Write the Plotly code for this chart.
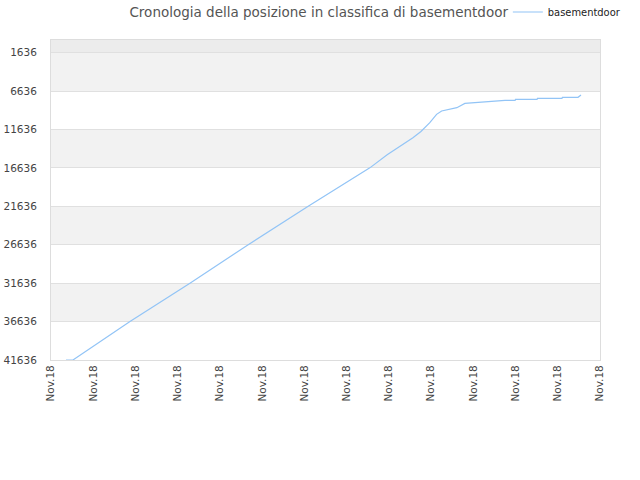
import plotly.graph_objects as go

# x positions in tick units (each tick labelled "Nov.18")
x_pos = [0.355, 0.52, 1.87, 2.58, 3.29, 4.67, 6.09, 7.55, 7.96, 8.57, 8.76,
         8.97, 9.13, 9.25, 9.45, 9.61, 9.80, 9.99, 10.32, 10.63, 10.75, 10.99,
         11.0, 11.51, 11.52, 12.10, 12.11, 12.48, 12.50, 12.55]
ranks = [41636, 41636, 36636, 34170, 31636, 26636, 21636, 16636, 14926, 12711, 11900,
         10757, 9676, 9233, 9024, 8803, 8242, 8151, 8060, 7930, 7851, 7851,
         7721, 7721, 7591, 7591, 7461, 7461, 7330, 7148]

tick_vals_x = list(range(14))
tick_text_x = ["Nov.18"] * 14
tick_vals_y = [1636, 6636, 11636, 16636, 21636, 26636, 31636, 36636, 41636]
tick_text_y = [str(v) for v in tick_vals_y]

fig = go.Figure()
fig.add_trace(go.Scatter(x=x_pos, y=ranks, mode="lines", name="basementdoor",
                         line=dict(color="#92c4f6", width=1.2)))

shapes = []
shapes.append(dict(type="rect", xref="paper", yref="y", x0=0, x1=1, y0=0, y1=tick_vals_y[0],
                   fillcolor="#ececec", line_width=0, layer="below"))
for i in range(0, len(tick_vals_y) - 1, 2):
    shapes.append(dict(type="rect", xref="paper", yref="y", x0=0, x1=1,
                       y0=tick_vals_y[i], y1=tick_vals_y[i + 1],
                       fillcolor="#f2f2f2", line_width=0, layer="below"))

tickfont = dict(family="DejaVu Sans", size=10.5, color="#444")

fig.update_layout(
    width=640, height=480,
    margin=dict(l=51, r=40, t=40, b=120, autoexpand=False),
    paper_bgcolor="white", plot_bgcolor="white",
    font=dict(family="DejaVu Sans", size=11, color="#444"),
    title=dict(text="Cronologia della posizione in classifica di basementdoor",
               x=0.498, xref="container", xanchor="center",
               y=0.975, yref="container", yanchor="middle",
               font=dict(size=13.5, color="#555")),
    showlegend=True,
    legend=dict(x=0.7935, xref="container", y=0.975, yref="container",
                xanchor="left", yanchor="middle",
                orientation="h",
                font=dict(family="DejaVu Sans Condensed, DejaVu Sans", size=11, color="#222"),
                bgcolor="rgba(0,0,0,0)", itemwidth=30),
    shapes=shapes,
)
fig.update_xaxes(range=[0, 13], tickvals=tick_vals_x, ticktext=tick_text_x,
                 tickangle=-90, showgrid=False, zeroline=False, automargin=False,
                 showline=True, linecolor="#dddddd", linewidth=1, mirror=True,
                 ticks="", tickfont=tickfont)
fig.update_yaxes(range=[41636, 0], tickvals=tick_vals_y, ticktext=tick_text_y,
                 showgrid=True, gridcolor="#e0e0e0", gridwidth=1, zeroline=False,
                 automargin=False,
                 showline=True, linecolor="#dddddd", linewidth=1, mirror=True,
                 ticks="", ticklabelstandoff=11, tickfont=tickfont)

fig.write_html("out.html", config={"displayModeBar": False},
               post_script="document.body.style.margin='0';")
